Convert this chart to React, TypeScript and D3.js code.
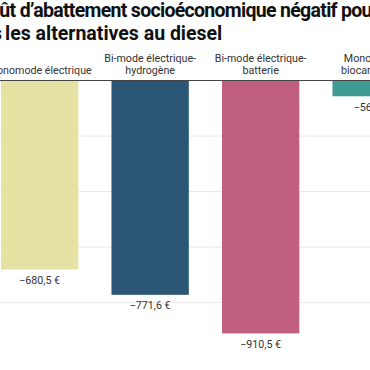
import React from "react";
import * as d3 from "d3";

// valeurs (€ par tonne de CO2 évitée)
const categories = [
  ["Monomode électrique"],
  ["Bi-mode électrique-", "hydrogène"],
  ["Bi-mode électrique-", "batterie"],
  ["Monomode", "biocarburant"],
];
const values = [-680.5, -771.6, -910.5, -56.8];
const colors = ["#e6e2a3", "#2b5675", "#c0607e", "#3f9a94"];
const gridTicks = [0, -200, -400, -600, -800];

const titleLine1 = "Coût d’abattement socioéconomique négatif pour";
const titleLine2 = ["toutes", "les alternatives au diesel"];

const width = 370;
const height = 370;

const fr = d3.formatLocale({
  decimal: ",",
  thousands: "\u202f",
  grouping: [3],
  currency: ["", " €"],
  minus: "\u2212",
});
const fmt = (v: number) => fr.format(",.1f")(v) + " €";

export default function App() {
  const keys = categories.map((c) => c.join(" "));

  const x = d3
    .scaleBand()
    .domain(keys)
    .range([-15.6, -15.6 + keys.length * 110.5])
    .paddingInner(0.3)
    .paddingOuter(0.15);

  const y = d3.scaleLinear().domain([0, -800]).range([80.5, 302.7]);

  return (
    <div>
      <style>{`body{margin:0}`}</style>
      <svg
        width={width}
        height={height}
        style={{ display: "block", fontFamily: "Roboto, sans-serif" }}
      >
        <rect width={width} height={height} fill="#fff" />

        <text
          x={-23}
          y={17}
          fontSize={19.5}
          fontWeight={700}
          letterSpacing={-0.7}
          fill="#111"
        >
          {titleLine1}
        </text>
        <text y={40} fontSize={19.5} fontWeight={700} fill="#111">
          <tspan x={2} textAnchor="end">
            {titleLine2[0]}
          </tspan>
          <tspan x={5}>{titleLine2[1]}</tspan>
        </text>

        {gridTicks.slice(1).map((t) => (
          <line
            key={t}
            x1={0}
            x2={width}
            y1={y(t)}
            y2={y(t)}
            stroke="#e8e8e8"
            strokeWidth={1}
          />
        ))}

        {keys.map((k, i) => {
          const cx = (x(k) as number) + x.bandwidth() / 2;
          const lines = categories[i];
          return (
            <g key={k}>
              <rect
                x={x(k)}
                y={y(0)}
                width={x.bandwidth()}
                height={y(values[i]) - y(0)}
                fill={colors[i]}
              />
              {lines.map((l, j) => (
                <text
                  key={j}
                  x={cx}
                  y={73.5 - (lines.length - 1 - j) * 12}
                  textAnchor="middle"
                  fontSize={10.7}
                  fill="#333"
                >
                  {l}
                </text>
              ))}
              <text
                x={cx}
                y={y(values[i]) + 14.5}
                textAnchor="middle"
                fontSize={10.7}
                fill="#333"
              >
                {fmt(values[i])}
              </text>
            </g>
          );
        })}

        <line
          x1={0}
          x2={width}
          y1={y(0)}
          y2={y(0)}
          stroke="#444"
          strokeWidth={1}
        />
      </svg>
    </div>
  );
}
